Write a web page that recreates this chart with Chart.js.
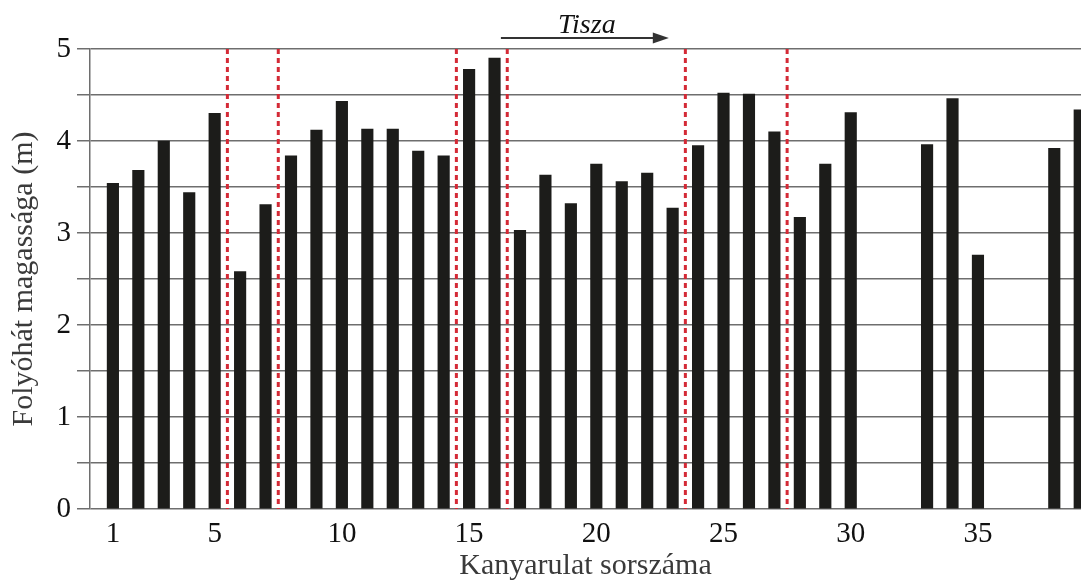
<!DOCTYPE html>
<html lang="hu">
<head>
<meta charset="utf-8">
<title>Folyóhát magassága</title>
<script src="https://cdn.jsdelivr.net/npm/chart.js@4.4.1/dist/chart.umd.min.js"></script>
<style>
    html, body { margin: 0; padding: 0; background: #fff; overflow: hidden; }
    #wrap { width: 1081px; height: 581px; }
</style>
</head>
<body>
<div id="wrap"><canvas id="folyohat-chart" width="1081" height="581"></canvas></div>
<script>
// kanyarulatok sorszáma és a folyóhát magassága (m); null = nincs adat
const kanyarulatok = [1, 2, 3, 4, 5, 6, 7, 8, 9, 10, 11, 12, 13, 14, 15, 16, 17, 18, 19, 20,
    21, 22, 23, 24, 25, 26, 27, 28, 29, 30, 31, 32, 33, 34, 35, 36, 37, 38, 39];
const magassagok = [3.54, 3.68, 4.00, 3.44, 4.30, 2.58, 3.31, 3.84, 4.12, 4.43,
    4.13, 4.13, 3.89, 3.84, 4.78, 4.90, 3.03, 3.63, 3.32, 3.75,
    3.56, 3.65, 3.27, 3.95, 4.52, 4.51, 4.10, 3.17, 3.75, 4.31,
    null, null, 3.96, 4.46, 2.76, null, null, 3.92, 4.34];

// szakaszhatárok (piros szaggatott vonalak)
const hatarok = [5.5, 7.5, 14.5, 16.5, 23.5, 27.5];

// tengelyfeliratok
const xTicks = [1, 5, 10, 15, 20, 25, 30, 35];
const yTicks = [0, 0.5, 1, 1.5, 2, 2.5, 3, 3.5, 4, 4.5, 5];

// folyásirány nyíl (kanyarulat-sorszámban)
const tiszaNyil = { from: 16.25, to: 22.85, label: 'Tisza' };

const serif = '"Liberation Serif", "Times New Roman", serif';
const gridColor = '#6e6e6e';

const hatarDatasets = hatarok.map(h => ({
    type: 'line',
    data: [{ x: h, y: 5 }, { x: h, y: 0 }],
    borderColor: '#d42a36',
    borderWidth: 3,
    borderDash: [5, 4],
    pointRadius: 0,
    fill: false
}));

const tiszaPlugin = {
    id: 'tiszaNyil',
    afterDraw(chart) {
        const { ctx, scales: { x, y } } = chart;
        const x0 = x.getPixelForValue(tiszaNyil.from);
        const x1 = x.getPixelForValue(tiszaNyil.to);
        const yy = y.getPixelForValue(5) - 11;
        ctx.save();
        ctx.strokeStyle = '#333';
        ctx.fillStyle = '#333';
        ctx.lineWidth = 2;
        ctx.beginPath();
        ctx.moveTo(x0, yy);
        ctx.lineTo(x1 - 12, yy);
        ctx.stroke();
        ctx.beginPath();
        ctx.moveTo(x1, yy);
        ctx.lineTo(x1 - 16, yy - 5.5);
        ctx.lineTo(x1 - 16, yy + 5.5);
        ctx.closePath();
        ctx.fill();
        ctx.fillStyle = '#111';
        ctx.font = 'italic 28px ' + serif;
        ctx.textAlign = 'center';
        ctx.textBaseline = 'alphabetic';
        ctx.fillText(tiszaNyil.label, (x0 + x1) / 2 + 2, yy - 5);
        ctx.restore();
    }
};

new Chart(document.getElementById('folyohat-chart').getContext('2d'), {
    type: 'bar',
    data: {
        datasets: [{
            type: 'bar',
            data: kanyarulatok.map((k, i) => ({ x: k, y: magassagok[i] })),
            backgroundColor: '#1c1c1a',
            barThickness: 11.5,
            borderWidth: 0
        }, ...hatarDatasets]
    },
    options: {
        responsive: false,
        animation: false,
        layout: { padding: { top: 49, right: 0, left: 0, bottom: 0 } },
        plugins: { legend: { display: false }, tooltip: { enabled: false } },
        scales: {
            x: {
                type: 'linear',
                min: 0.1,
                max: 39.05,
                offset: false,
                afterBuildTicks: s => { s.ticks = xTicks.map(v => ({ value: v })); },
                afterFit: s => { s.height = 72; },
                grid: { display: false, drawTicks: false },
                border: { display: false },
                ticks: {
                    autoSkip: false,
                    maxRotation: 0,
                    padding: 8,
                    color: '#111',
                    font: { family: serif, size: 29 }
                },
                title: {
                    display: true,
                    text: 'Kanyarulat sorszáma',
                    color: '#3a3a3a',
                    padding: { top: 0, bottom: -3 },
                    font: { family: serif, size: 30 }
                }
            },
            y: {
                min: 0,
                max: 5,
                afterBuildTicks: s => { s.ticks = yTicks.map(v => ({ value: v })); },
                afterFit: s => { s.width = 90; },
                grid: {
                    color: gridColor,
                    lineWidth: 1.5,
                    tickLength: 13,
                    tickColor: gridColor
                },
                border: { display: true, color: gridColor, width: 1.5 },
                ticks: {
                    padding: 6,
                    color: '#111',
                    font: { family: serif, size: 29 },
                    callback: v => Number.isInteger(v) ? v : ''
                },
                title: {
                    display: true,
                    text: 'Folyóhát magassága (m)',
                    color: '#3a3a3a',
                    padding: { top: 6, bottom: 0 },
                    font: { family: serif, size: 30 }
                }
            }
        }
    },
    plugins: [tiszaPlugin]
});
</script>
</body>
</html>
